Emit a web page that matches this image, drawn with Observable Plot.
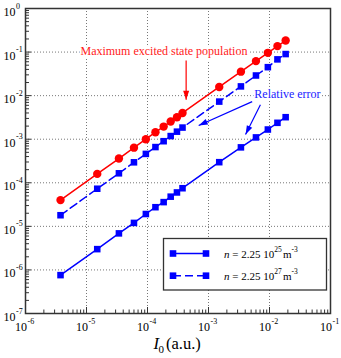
<!DOCTYPE html>
<html><head><meta charset="utf-8">
<script src="https://cdn.jsdelivr.net/npm/d3@7"></script>
<script src="https://cdn.jsdelivr.net/npm/@observablehq/plot@0.6"></script>
<style>body{margin:0;background:#fff} svg{font-family:"Liberation Serif",serif}</style>
</head><body><div id="chart"></div>
<script>
// ---- data ----
const intensity = [3.75e-6, 1.5e-5, 3.4e-5, 6.0e-5, 9.4e-5, 1.35e-4, 1.84e-4, 2.4e-4, 3.04e-4, 3.75e-4, 1.5e-3, 3.4e-3, 6.0e-3, 9.4e-3, 1.35e-2, 1.84e-2];
const maxPopulation = [4.0e-5, 1.6e-4, 3.6e-4, 6.4e-4, 1.0e-3, 1.45e-3, 1.95e-3, 2.55e-3, 3.2e-3, 4.0e-3, 1.58e-2, 3.55e-2, 6.2e-2, 9.6e-2, 0.137, 0.184];
const errorN25 = [7.6e-7, 3.0e-6, 6.9e-6, 1.2e-5, 1.92e-5, 2.75e-5, 3.6e-5, 4.8e-5, 6.0e-5, 7.5e-5, 2.97e-4, 6.5e-4, 1.1e-3, 1.67e-3, 2.38e-3, 3.2e-3];
const errorN27 = [1.8e-5, 7.3e-5, 1.65e-4, 2.95e-4, 4.6e-4, 6.6e-4, 9.0e-4, 1.18e-3, 1.49e-3, 1.85e-3, 7.3e-3, 1.63e-2, 2.9e-2, 4.5e-2, 6.8e-2, 9.0e-2];
const xDecades = [1e-6, 1e-5, 1e-4, 1e-3, 1e-2, 1e-1];
const xExponents = ["-6", "-5", "-4", "-3", "-2", "-1"];
const yDecades = [1e-7, 1e-6, 1e-5, 1e-4, 1e-3, 1e-2, 1e-1, 1];
const yExponents = ["-7", "-6", "-5", "-4", "-3", "-2", "-1", "0"];
const legendLabels = [{exp: "25", dash: null}, {exp: "27", dash: "8,4"}];
const noteTexts = [
  {label: "Maximum excited state population", x: 1.86e-4, y: 0.106, color: "#ff1a1a"},
  {label: "Relative error", x: 1.97e-2, y: 1.06e-2, color: "#1a1aff"}
];
const redArrows = [{x1: 4.3e-4, y1: 0.064, x2: 4.3e-4, y2: 8.1e-3}];
const blueArrows = [
  {x1: 5.2e-3, y1: 7.3e-3, x2: 6.9e-4, y2: 2.06e-3},
  {x1: 7.1e-3, y1: 6.2e-3, x2: 4.05e-3, y2: 1.28e-3}
];

const pop = intensity.map((x, i) => ({x, y: maxPopulation[i]}));
const e25 = intensity.map((x, i) => ({x, y: errorN25[i]}));
const e27 = intensity.map((x, i) => ({x, y: errorN27[i]}));
const minor = (decs) => decs.slice(0, -1).flatMap(d => [2,3,4,5,6,7,8,9].map(k => d * k));
const xMinor = minor(xDecades), yMinor = minor(yDecades);

const RED = "#ff0000", BLUE = "#0000ff";
const gridStyle = {stroke: "#777", strokeDasharray: "1,2", strokeWidth: 1};

const plot = Plot.plot({
  width: 341, height: 358,
  marginLeft: 25, marginRight: 11, marginTop: 8, marginBottom: 45,
  x: {type: "log", domain: [1e-6, 1e-1], axis: null},
  y: {type: "log", domain: [1e-7, 1], axis: null},
  style: {fontFamily: "Liberation Serif, serif", background: "white", color: "black"},
  marks: [
    Plot.ruleX(xDecades.slice(1, -1), gridStyle),
    Plot.ruleY(yDecades.slice(1, -1), gridStyle),
    Plot.tickX(xMinor, {x: d => d, insetTop: 301.5, stroke: "#333"}),
    Plot.tickX(xDecades, {x: d => d, insetTop: 299, stroke: "#333"}),
    Plot.tickY(yMinor, {y: d => d, insetRight: 301, stroke: "#333"}),
    Plot.tickY(yDecades, {y: d => d, insetRight: 299, stroke: "#333"}),
    // tick labels
    Plot.text(yDecades, {y: d => d, frameAnchor: "left", text: () => "10", textAnchor: "end", lineAnchor: "bottom", dx: -10, dy: 7.5, fontSize: 12}),
    Plot.text(yDecades, {y: d => d, frameAnchor: "left", text: (d, i) => yExponents[i], textAnchor: "start", lineAnchor: "bottom", dx: -9.5, dy: 0, fontSize: 8}),
    Plot.text(xDecades, {x: d => d, frameAnchor: "bottom", text: () => "10", textAnchor: "end", lineAnchor: "bottom", dx: 1.5, dy: 17, fontSize: 12}),
    Plot.text(xDecades, {x: d => d, frameAnchor: "bottom", text: (d, i) => xExponents[i], textAnchor: "start", lineAnchor: "bottom", dx: 2, dy: 10, fontSize: 8}),
    // axis title
    Plot.text(["I"], {frameAnchor: "bottom", text: d => d, textAnchor: "end", lineAnchor: "bottom", dx: -19, dy: 35, fontSize: 16.5, fontStyle: "italic"}),
    Plot.text(["0"], {frameAnchor: "bottom", text: d => d, textAnchor: "start", lineAnchor: "bottom", dx: -19.5, dy: 39, fontSize: 11}),
    Plot.text(["(a.u.)"], {frameAnchor: "bottom", text: d => d, textAnchor: "start", lineAnchor: "bottom", dx: -12, dy: 35, fontSize: 16.5}),
    // annotations
    Plot.text(noteTexts, {x: "x", y: "y", text: "label", fill: "color", stroke: "white", strokeWidth: 4, fontSize: 12}),
    Plot.link(redArrows, {x1: "x1", y1: "y1", x2: "x2", y2: "y2", stroke: RED, strokeWidth: 1.2, markerEnd: "arrow"}),
    Plot.link(blueArrows, {x1: "x1", y1: "y1", x2: "x2", y2: "y2", stroke: BLUE, strokeWidth: 1.2, markerEnd: "arrow"}),
    // series
    Plot.line(pop, {x: "x", y: "y", stroke: RED, strokeWidth: 1.5}),
    Plot.dot(pop, {x: "x", y: "y", fill: RED, r: 4.2}),
    Plot.line(e27, {x: "x", y: "y", stroke: BLUE, strokeWidth: 1.5, strokeDasharray: "8,4"}),
    Plot.dot(e27, {x: "x", y: "y", fill: BLUE, symbol: "square", r: 3.7}),
    Plot.line(e25, {x: "x", y: "y", stroke: BLUE, strokeWidth: 1.5}),
    Plot.dot(e25, {x: "x", y: "y", fill: BLUE, symbol: "square", r: 3.7}),
    Plot.frame({stroke: "#333", strokeWidth: 1.5})
  ]
});

const svg = d3.select(plot);
// filled triangular arrowheads
svg.selectAll("marker").each(function () {
  const m = d3.select(this);
  const color = m.attr("stroke");
  m.attr("viewBox", "-10 -6 12 12").attr("markerWidth", 12).attr("markerHeight", 12)
   .attr("markerUnits", "userSpaceOnUse").attr("fill", color).attr("stroke", "none");
  m.selectAll("*").remove();
  m.append("path").attr("d", "M-9,-3L0,0L-9,3Z");
});

// legend
const lg = svg.append("g").attr("font-family", "Liberation Serif, serif").attr("text-anchor", "start");
lg.append("rect").attr("x", 163.5).attr("y", 238.5).attr("width", 163).attr("height", 51.5)
  .attr("fill", "white").attr("stroke", "#333").attr("stroke-width", 1.3);
legendLabels.forEach((d, i) => {
  const cy = 253.5 + i * 22.2;
  lg.append("line").attr("x1", 173).attr("x2", 207).attr("y1", cy).attr("y2", cy)
    .attr("stroke", BLUE).attr("stroke-width", 1.5).attr("stroke-dasharray", d.dash);
  [173, 206].forEach(cx => lg.append("rect").attr("x", cx - 3.3).attr("y", cy - 3.3)
    .attr("width", 6.6).attr("height", 6.6).attr("fill", BLUE));
  const t = lg.append("text").attr("x", 224).attr("y", cy + 4).attr("font-size", 11)
    .attr("text-anchor", "start").style("white-space", "pre");
  t.append("tspan").attr("font-style", "italic").text("n");
  t.append("tspan").text(" = 2.25 10");
  t.append("tspan").attr("dy", -6).attr("font-size", 7.5).text(d.exp);
  t.append("tspan").attr("dy", 6).attr("x", 283).text("m");
  t.append("tspan").attr("dy", -6).attr("font-size", 7.5).text("-3");
});

document.getElementById("chart").appendChild(plot);
</script></body></html>
